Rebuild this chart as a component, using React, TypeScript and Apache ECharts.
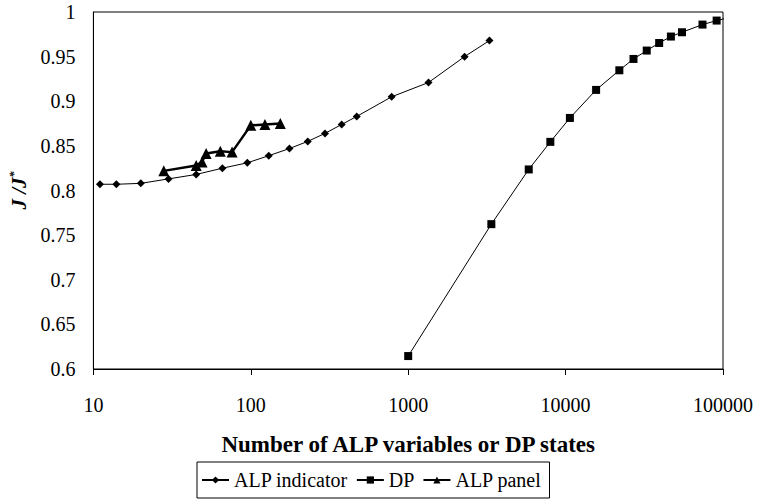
import React, { useEffect, useRef } from 'react';
import * as echarts from 'echarts';

const xTicks = [10, 100, 1000, 10000, 100000];
const yTicks = [0.6, 0.65, 0.7, 0.75, 0.8, 0.85, 0.9, 0.95, 1];

const seriesNames = ['ALP indicator', 'DP', 'ALP panel'];

const alpIndicatorX = [11, 14, 20, 30, 45, 66, 95, 130, 176, 230, 296, 378, 471, 785, 1346, 2280, 3282];
const alpIndicatorY = [0.807, 0.807, 0.808, 0.813, 0.818, 0.825, 0.831, 0.839, 0.847, 0.855, 0.864, 0.874, 0.883, 0.905, 0.921, 0.95, 0.968];

const dpX = [1000, 3375, 5832, 8000, 10648, 15625, 21952, 27000, 32768, 39304, 46656, 54872, 74088, 91125, 110592];
const dpY = [0.6145, 0.7623, 0.8236, 0.8545, 0.8813, 0.9127, 0.9347, 0.9474, 0.9568, 0.9653, 0.9725, 0.9773, 0.9859, 0.9904, 0.994];

const alpPanelX = [28, 45, 49, 52, 64, 76, 100, 123, 154];
const alpPanelY = [0.822, 0.828, 0.832, 0.8415, 0.844, 0.843, 0.873, 0.874, 0.875];

const FONT = 'Liberation Serif, Times New Roman, Times, DejaVu Serif, serif';

function pairs(xs: number[], ys: number[]) {
  return xs.map((x, i) => [x, ys[i]]);
}

export default function App() {
  const ref = useRef<HTMLDivElement>(null);
  useEffect(() => {
    document.body.style.margin = '0';
    const chart = echarts.init(ref.current!, null, { renderer: 'svg' });
    const dpData: any[] = pairs(dpX, dpY).map((p, i) =>
      i === dpX.length - 1 ? { value: p, symbol: 'none' } : p
    );
    chart.setOption({
      animation: false,
      backgroundColor: '#fff',
      textStyle: { fontFamily: FONT, color: '#000' },
      grid: {
        left: 92,
        right: 36,
        top: 12,
        bottom: 135,
        show: true,
        borderColor: '#000',
        borderWidth: 1,
        backgroundColor: 'transparent',
      },
      xAxis: {
        type: 'log',
        logBase: 10,
        min: xTicks[0],
        max: xTicks[xTicks.length - 1],
        axisLine: { lineStyle: { color: '#000', width: 1 } },
        axisTick: { show: true, length: 6, lineStyle: { color: '#000' } },
        minorTick: { show: false },
        splitLine: { show: false },
        axisLabel: {
          fontFamily: FONT,
          fontSize: 20,
          color: '#000',
          margin: 26,
          formatter: (v: number) => String(Math.round(v)),
        },
        name: 'Number of ALP variables or DP states',
        nameLocation: 'middle',
        nameGap: 64,
        nameTextStyle: { fontFamily: FONT, fontSize: 23, fontWeight: 'bold', color: '#000' },
      },
      yAxis: {
        type: 'value',
        min: yTicks[0],
        max: yTicks[yTicks.length - 1],
        interval: 0.05,
        axisLine: { show: true, lineStyle: { color: '#000', width: 1 } },
        axisTick: { show: false },
        splitLine: { show: false },
        axisLabel: {
          fontFamily: FONT,
          fontSize: 20,
          color: '#000',
          margin: 18,
          padding: [9, 0, 0, 0],
          formatter: (v: number) => String(parseFloat(v.toFixed(2))),
        },
        name: '{j|J /J}{s|*}',
        nameLocation: 'middle',
        nameGap: 54,
        nameRotate: 90,
        nameTextStyle: {
          fontFamily: FONT,
          rich: {
            j: { fontFamily: FONT, fontSize: 21, fontWeight: 'bold', fontStyle: 'italic', color: '#000', lineHeight: 22 },
            s: { fontFamily: FONT, fontSize: 12, fontWeight: 'bold', fontStyle: 'italic', color: '#000', verticalAlign: 'top', lineHeight: 22 },
          },
        },
      },
      legend: {
        data: seriesNames,
        left: 197,
        top: 462,
        orient: 'horizontal',
        itemWidth: 27,
        itemHeight: 9,
        itemGap: 8,
        padding: [8, 8, 8, 4],
        borderColor: '#000',
        borderWidth: 1,
        textStyle: { fontFamily: FONT, fontSize: 20, color: '#000' },
      },
      series: [
        {
          name: seriesNames[0],
          type: 'line',
          data: pairs(alpIndicatorX, alpIndicatorY),
          symbol: 'diamond',
          symbolSize: 8,
          lineStyle: { color: '#000', width: 1 },
          itemStyle: { color: '#000' },
        },
        {
          name: seriesNames[1],
          type: 'line',
          data: dpData,
          clip: false,
          symbol: 'rect',
          symbolSize: 8,
          lineStyle: { color: '#000', width: 1 },
          itemStyle: { color: '#000' },
        },
        {
          name: seriesNames[2],
          type: 'line',
          data: pairs(alpPanelX, alpPanelY),
          symbol: 'triangle',
          symbolSize: 11,
          lineStyle: { color: '#000', width: 2.5 },
          itemStyle: { color: '#000' },
        },
      ],
    });
    return () => chart.dispose();
  }, []);
  return <div ref={ref} style={{ width: 759, height: 504 }} />;
}
